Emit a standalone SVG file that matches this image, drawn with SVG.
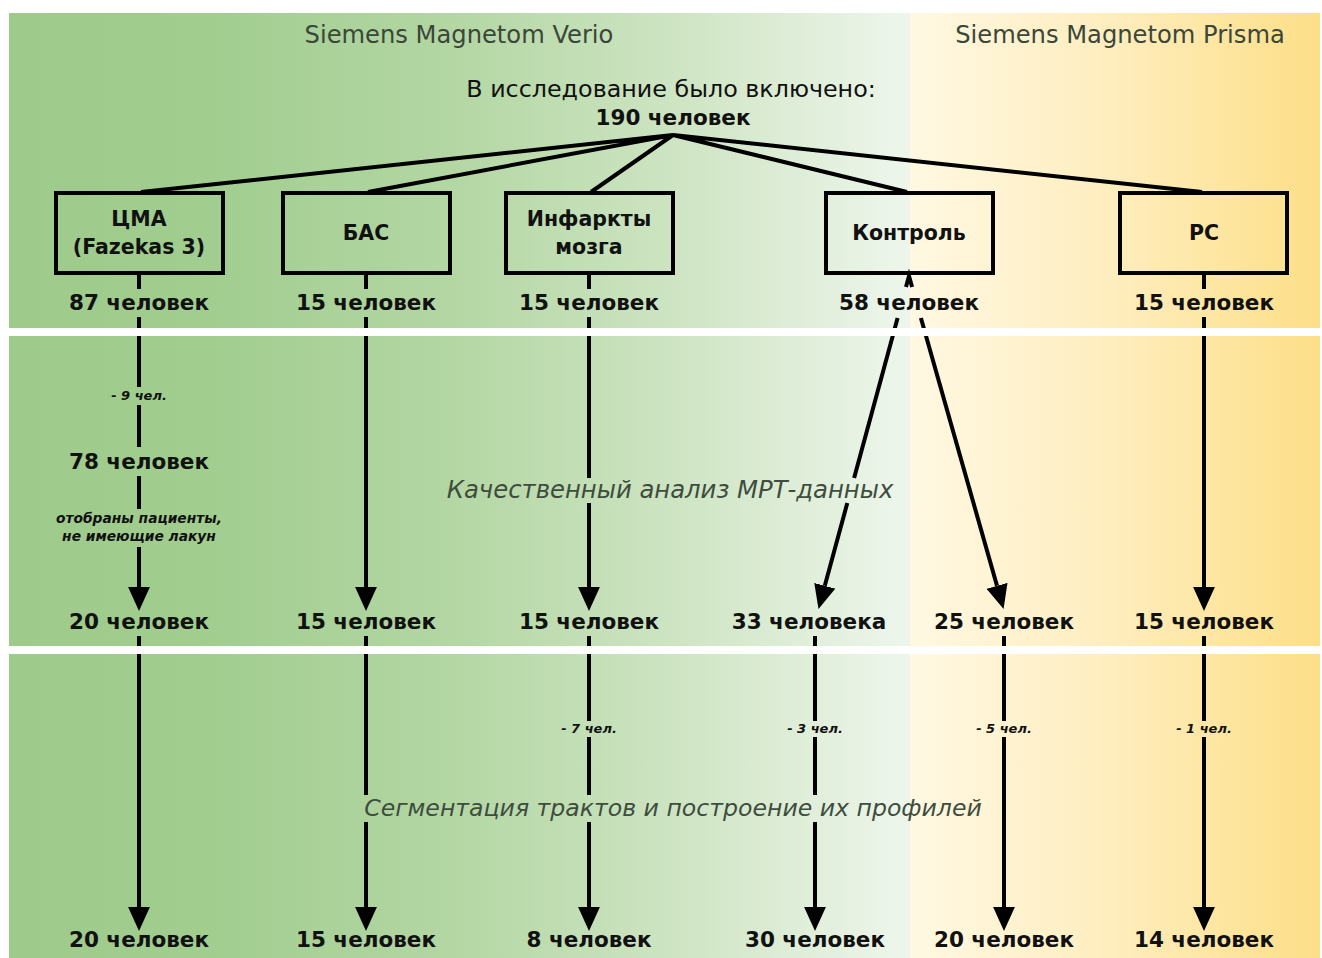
<svg xmlns="http://www.w3.org/2000/svg" width="1322" height="958" viewBox="0 0 1322 958">
<defs>
<linearGradient id="gl" x1="9" y1="0" x2="910" y2="0" gradientUnits="userSpaceOnUse">
<stop offset="0" stop-color="#9ecb8b"/>
<stop offset="0.22" stop-color="#a1cd8f"/>
<stop offset="0.5" stop-color="#b4d7a4"/>
<stop offset="0.75" stop-color="#cfe5c4"/>
<stop offset="1" stop-color="#eef6ec"/>
</linearGradient>
<linearGradient id="gr" x1="910" y1="0" x2="1320" y2="0" gradientUnits="userSpaceOnUse">
<stop offset="0" stop-color="#fff8e2"/>
<stop offset="0.5" stop-color="#feedbd"/>
<stop offset="1" stop-color="#fddf88"/>
</linearGradient>
<marker id="ah" markerUnits="userSpaceOnUse" markerWidth="24" markerHeight="22" refX="0" refY="10" orient="auto" viewBox="0 0 22 20">
<path d="M0,0 L22,10 L0,20 z" fill="#000"/>
</marker>
<style>
.t{font-family:"DejaVu Sans","Liberation Sans",sans-serif;fill:#111;text-anchor:middle}
.b{font-weight:bold;font-size:21.5px}
.bx{font-weight:bold;font-size:20.5px}
.hd{font-size:24.2px;fill:#3a473a}
.sec{font-size:24.3px;font-style:italic;fill:#3e4d3e}
.sec2{font-size:23.6px}
.sm{font-size:13px;font-style:italic;font-weight:bold}
.sm2{font-size:13.8px}
.box{fill:none;stroke:#000;stroke-width:4}
.ln{stroke:#000;stroke-width:4;fill:none}
.ar{stroke:#000;stroke-width:4;fill:none;marker-end:url(#ah)}
</style>
</defs>
<g id="background">
<rect x="9" y="13" width="901" height="945" fill="url(#gl)"/>
<rect x="910" y="13" width="410" height="945" fill="url(#gr)"/>
</g>
<g id="connectors">
<path class="ln" d="M673,135 L141,192 M673,135 L368,192 M673,135 L591,192 M673,135 L907,192 M673,135 L1202,192" stroke-width="4.5"/>
<path class="ln" d="M139,273 V289 M139,317 V387 M139,405 V447 M139,476 V509"/>
<path class="ar" d="M139,547 V587"/>
<path class="ar" d="M139,636 V907"/>
<path class="ln" d="M366,273 V289"/>
<path class="ar" d="M366,317 V587"/>
<path class="ln" d="M366,636 V795"/>
<path class="ar" d="M366,822 V907"/>
<path class="ln" d="M589,273 V289 M589,317 V478"/>
<path class="ar" d="M589,503 V587"/>
<path class="ln" d="M589,636 V721 M589,737 V795"/>
<path class="ar" d="M589,822 V907"/>
<path class="ln" d="M906,287 L909,276 L912.1,287"/>
<path class="ln" d="M897.6,318 L854.1,478"/>
<path class="ar" d="M847.3,503 L824.8,585.8"/>
<path class="ar" d="M920.9,318 L997,585.8"/>
<path class="ln" d="M815,636 V721 M815,737 V795"/>
<path class="ar" d="M815,822 V907"/>
<path class="ln" d="M1004,636 V721"/>
<path class="ar" d="M1004,737 V907"/>
<path class="ln" d="M1204,273 V289"/>
<path class="ar" d="M1204,317 V587"/>
<path class="ln" d="M1204,636 V721"/>
<path class="ar" d="M1204,737 V907"/>
</g>
<g id="bands">
<rect x="9" y="328" width="1313" height="8" fill="#fff"/>
<rect x="9" y="646" width="1313" height="8" fill="#fff"/>
</g>
<g id="headers">
<text class="t hd" x="459" y="43">Siemens Magnetom Verio</text>
<text class="t hd" x="1120" y="43">Siemens Magnetom Prisma</text>
</g>
<g id="root">
<text class="t" x="671" y="97" font-size="23.8">В исследование было включено:</text>
<text class="t b" x="673" y="125">190 человек</text>
</g>
<g id="node-cma">
<rect class="box" x="56" y="193" width="167" height="80"/>
<text class="t bx" x="139" y="226">ЦМА</text>
<text class="t bx" x="139" y="254">(Fazekas 3)</text>
</g>
<g id="node-bas">
<rect class="box" x="283" y="193" width="167" height="80"/>
<text class="t bx" x="366" y="240">БАС</text>
</g>
<g id="node-infarct">
<rect class="box" x="506" y="193" width="167" height="80"/>
<text class="t bx" x="589" y="226">Инфаркты</text>
<text class="t bx" x="589" y="254">мозга</text>
</g>
<g id="node-control">
<rect class="box" x="826" y="193" width="167" height="80"/>
<text class="t bx" x="909" y="240">Контроль</text>
</g>
<g id="node-rs">
<rect class="box" x="1120" y="193" width="167" height="80"/>
<text class="t bx" x="1204" y="240">РС</text>
</g>
<g id="counts-1">
<text class="t b" x="139" y="310">87 человек</text>
<text class="t b" x="366" y="310">15 человек</text>
<text class="t b" x="589" y="310">15 человек</text>
<text class="t b" x="909" y="310">58 человек</text>
<text class="t b" x="1204" y="310">15 человек</text>
</g>
<g id="cma-steps">
<text class="t sm" x="139" y="400">- 9 чел.</text>
<text class="t b" x="139" y="469">78 человек</text>
<text class="t sm sm2" x="139" y="523">отобраны пациенты,</text>
<text class="t sm sm2" x="139" y="541">не имеющие лакун</text>
</g>
<g id="section-labels">
<text class="t sec" x="670" y="498">Качественный анализ МРТ-данных</text>
<text class="t sec sec2" x="673" y="816">Сегментация трактов и построение их профилей</text>
</g>
<g id="counts-2">
<text class="t b" x="139" y="629">20 человек</text>
<text class="t b" x="366" y="629">15 человек</text>
<text class="t b" x="589" y="629">15 человек</text>
<text class="t b" x="809" y="629">33 человека</text>
<text class="t b" x="1004" y="629">25 человек</text>
<text class="t b" x="1204" y="629">15 человек</text>
</g>
<g id="losses">
<text class="t sm" x="589" y="733">- 7 чел.</text>
<text class="t sm" x="815" y="733">- 3 чел.</text>
<text class="t sm" x="1004" y="733">- 5 чел.</text>
<text class="t sm" x="1204" y="733">- 1 чел.</text>
</g>
<g id="counts-3">
<text class="t b" x="139" y="947">20 человек</text>
<text class="t b" x="366" y="947">15 человек</text>
<text class="t b" x="589" y="947">8 человек</text>
<text class="t b" x="815" y="947">30 человек</text>
<text class="t b" x="1004" y="947">20 человек</text>
<text class="t b" x="1204" y="947">14 человек</text>
</g>
</svg>
